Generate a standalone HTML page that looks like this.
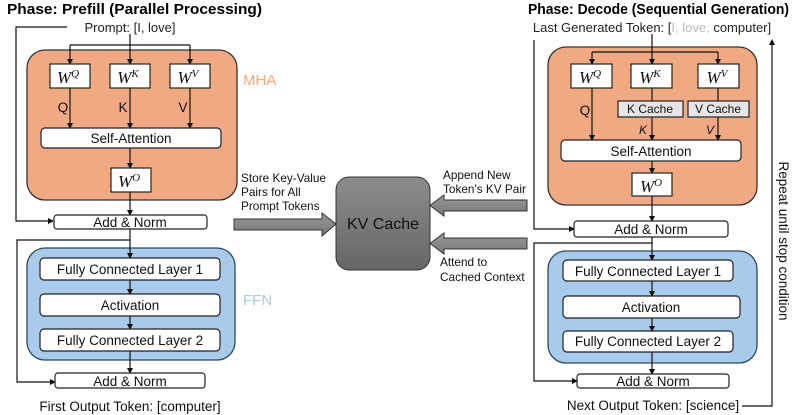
<!DOCTYPE html>
<html><head><meta charset="utf-8"><style>
html,body{margin:0;padding:0;background:#fff}
svg{display:block;font-family:"Liberation Sans",sans-serif}
.w{font-family:"Liberation Serif",serif;font-style:italic}
</style></head><body>
<svg width="793" height="415" viewBox="0 0 793 415" xmlns="http://www.w3.org/2000/svg">
<defs>
<marker id="a" markerWidth="6" markerHeight="6" refX="5" refY="3" orient="auto" markerUnits="userSpaceOnUse"><path d="M0,0 L6,3 L0,6z" fill="#111"/></marker>
<linearGradient id="g" x1="0" y1="0" x2="0" y2="1"><stop offset="0" stop-color="#8c8c8c"/><stop offset="1" stop-color="#676767"/></linearGradient>
<linearGradient id="g2" x1="0" y1="0" x2="0" y2="1"><stop offset="0" stop-color="#9a9a9a"/><stop offset="1" stop-color="#777"/></linearGradient>
</defs>
<g stroke="#111" stroke-width="1.3" fill="none">
<rect x="27" y="50" width="210" height="150" rx="18" fill="#F1A983" stroke="#333"/>
<rect x="27" y="248" width="208" height="112" rx="18" fill="#A9CBEB" stroke="#2c4862"/>
</g>
<g font-size="15" fill="#000">
<text x="7" y="14" font-weight="bold" font-size="14.5" textLength="255" lengthAdjust="spacingAndGlyphs">Phase: Prefill (Parallel Processing)</text>
<text x="130" y="32" text-anchor="middle" font-size="13" fill="#222">Prompt: [I, love]</text>
<text x="243" y="85" fill="#F2A982" font-size="15">MHA</text>
<text x="243" y="305" fill="#A9CBEB" font-size="15">FFN</text>
</g>
<g stroke="#111" stroke-width="1.2" fill="none">
<polyline points="67,27 16,27 16,221 53,221" marker-end="url(#a)"/>
<line x1="130" y1="34" x2="130" y2="64" marker-end="url(#a)"/>
<line x1="70" y1="45" x2="190" y2="45"/>
<line x1="70" y1="45" x2="70" y2="64" marker-end="url(#a)"/>
<line x1="190" y1="45" x2="190" y2="64" marker-end="url(#a)"/>
<line x1="70" y1="88" x2="70" y2="128" marker-end="url(#a)"/>
<line x1="130" y1="88" x2="130" y2="128" marker-end="url(#a)"/>
<line x1="190" y1="88" x2="190" y2="128" marker-end="url(#a)"/>
<line x1="130" y1="148" x2="130" y2="168" marker-end="url(#a)"/>
<line x1="130" y1="192" x2="130" y2="215" marker-end="url(#a)"/>
<polyline points="130,229 130,240 17,240 17,382 55,382" marker-end="url(#a)"/>
<line x1="130" y1="240" x2="130" y2="258" marker-end="url(#a)"/>
<line x1="130" y1="280" x2="130" y2="294" marker-end="url(#a)"/>
<line x1="130" y1="316" x2="130" y2="329" marker-end="url(#a)"/>
<line x1="130" y1="351" x2="130" y2="373" marker-end="url(#a)"/>
</g>
<g stroke="#222" stroke-width="1.2" fill="#fff">
<rect x="50" y="64" width="40" height="24"/><rect x="110" y="64" width="40" height="24"/><rect x="170" y="64" width="40" height="24"/>
<rect x="41" y="128" width="180" height="20" rx="4"/>
<rect x="111" y="168" width="40" height="24"/>
<rect x="54" y="215" width="153" height="14" rx="3"/>
<rect x="40" y="258" width="180" height="22" rx="4"/>
<rect x="40" y="294" width="180" height="22" rx="4"/>
<rect x="40" y="329" width="180" height="22" rx="4"/>
<rect x="55" y="373" width="150" height="15" rx="3"/>
</g>
<g font-size="13.5" fill="#111" text-anchor="middle">
<text class="w" x="68" y="83" font-size="17">W<tspan dy="-6" font-size="11">Q</tspan></text>
<text class="w" x="128" y="83" font-size="17">W<tspan dy="-6" font-size="11">K</tspan></text>
<text class="w" x="188" y="83" font-size="17">W<tspan dy="-6" font-size="11">V</tspan></text>
<text x="63" y="112">Q</text><text x="123" y="112">K</text><text x="183" y="112">V</text>
<text x="131" y="143">Self-Attention</text>
<text class="w" x="129" y="187" font-size="17">W<tspan dy="-6" font-size="11">O</tspan></text>
<text x="130" y="227">Add &amp; Norm</text>
<text x="130" y="274">Fully Connected Layer 1</text>
<text x="130" y="310">Activation</text>
<text x="130" y="345">Fully Connected Layer 2</text>
<text x="130" y="386">Add &amp; Norm</text>
<text x="130" y="411">First Output Token: [computer]</text>
</g>
<g font-size="11.8" fill="#111">
<text x="241" y="182">Store Key-Value</text><text x="241" y="196">Pairs for All</text><text x="241" y="210">Prompt Tokens</text>
<text x="443" y="179">Append New</text><text x="443" y="193">Token's KV Pair</text>
<text x="440" y="266">Attend to</text><text x="440" y="281">Cached Context</text>
</g>
<g stroke="#333" stroke-width="1" fill="url(#g2)">
<path d="M234,219 L322,219 L322,213 L336,224 L322,236 L322,230 L234,230z"/>
<path d="M527,200 L444,200 L444,195 L430,205.5 L444,216 L444,211 L527,211z"/>
<path d="M527,238 L444,238 L444,233 L430,243.5 L444,254 L444,249 L527,249z"/>
</g>
<rect x="336" y="177" width="94" height="93" rx="13" fill="url(#g)" stroke="#333"/>
<text x="383" y="229" text-anchor="middle" font-size="16" fill="#111">KV Cache</text>
<g stroke-width="1.3">
<rect x="548" y="47" width="209" height="158" rx="18" fill="#F1A983" stroke="#333"/>
<rect x="548" y="251" width="209" height="112" rx="18" fill="#A9CBEB" stroke="#2c4862"/>
</g>
<text x="528" y="14" font-weight="bold" font-size="14.5" textLength="261" lengthAdjust="spacingAndGlyphs">Phase: Decode (Sequential Generation)</text>
<text x="652" y="32" text-anchor="middle" font-size="13" fill="#222">Last Generated Token: [<tspan fill="#bbb">I, love,</tspan> computer]</text>
<g stroke="#111" stroke-width="1.2" fill="none">
<polyline points="534,40 534,229 574,229" marker-end="url(#a)"/>
<line x1="652" y1="34" x2="652" y2="64" marker-end="url(#a)"/>
<line x1="592" y1="52" x2="718" y2="52"/>
<line x1="592" y1="52" x2="592" y2="64" marker-end="url(#a)"/>
<line x1="718" y1="52" x2="718" y2="64" marker-end="url(#a)"/>
<line x1="592" y1="88" x2="592" y2="140" marker-end="url(#a)"/>
<line x1="652" y1="88" x2="652" y2="101"/>
<line x1="718" y1="88" x2="718" y2="101"/>
<line x1="652" y1="117" x2="652" y2="140" marker-end="url(#a)"/>
<line x1="718" y1="117" x2="718" y2="140" marker-end="url(#a)"/>
<line x1="652" y1="161" x2="652" y2="173" marker-end="url(#a)"/>
<line x1="652" y1="196" x2="652" y2="221" marker-end="url(#a)"/>
<polyline points="652,237 652,243 534,243 534,381 577,381" marker-end="url(#a)"/>
<line x1="652" y1="243" x2="652" y2="260" marker-end="url(#a)"/>
<line x1="652" y1="281" x2="652" y2="296" marker-end="url(#a)"/>
<line x1="652" y1="318" x2="652" y2="331" marker-end="url(#a)"/>
<line x1="652" y1="352" x2="652" y2="374" marker-end="url(#a)"/>
<polyline points="742,406 772,406 772,40" marker-end="url(#a)"/>
</g>
<g stroke="#222" stroke-width="1.2" fill="#fff">
<rect x="571" y="64" width="41" height="24"/><rect x="631" y="64" width="41" height="24"/><rect x="698" y="64" width="41" height="24"/>
<rect x="618" y="101" width="65" height="16" fill="#e6e6e6"/><rect x="688" y="101" width="61" height="16" fill="#e6e6e6"/>
<rect x="561" y="140" width="180" height="21" rx="4"/>
<rect x="632" y="173" width="40" height="23"/>
<rect x="574" y="221" width="154" height="16" rx="3"/>
<rect x="563" y="260" width="170" height="21" rx="4"/>
<rect x="563" y="296" width="177" height="22" rx="4"/>
<rect x="563" y="331" width="170" height="21" rx="4"/>
<rect x="577" y="374" width="152" height="14" rx="3"/>
</g>
<g font-size="13.5" fill="#111" text-anchor="middle">
<text class="w" x="590" y="83" font-size="17">W<tspan dy="-6" font-size="11">Q</tspan></text>
<text class="w" x="650" y="83" font-size="17">W<tspan dy="-6" font-size="11">K</tspan></text>
<text class="w" x="717" y="83" font-size="17">W<tspan dy="-6" font-size="11">V</tspan></text>
<text x="650" y="113" font-size="12">K Cache</text><text x="718" y="113" font-size="12">V Cache</text>
<text x="585" y="115">Q</text>
<text x="643" y="134" font-style="italic" font-size="12">K</text><text x="710" y="134" font-style="italic" font-size="12">V</text>
<text x="651" y="156">Self-Attention</text>
<text class="w" x="651" y="192" font-size="17">W<tspan dy="-6" font-size="11">O</tspan></text>
<text x="651" y="234">Add &amp; Norm</text>
<text x="648" y="276">Fully Connected Layer 1</text>
<text x="651" y="312">Activation</text>
<text x="648" y="346">Fully Connected Layer 2</text>
<text x="653" y="386">Add &amp; Norm</text>
<text x="653" y="410">Next Output Token: [science]</text>
</g>
<text transform="translate(779,241) rotate(90)" text-anchor="middle" font-size="13.5" fill="#111">Repeat until stop condition</text>
</svg>
</body></html>
